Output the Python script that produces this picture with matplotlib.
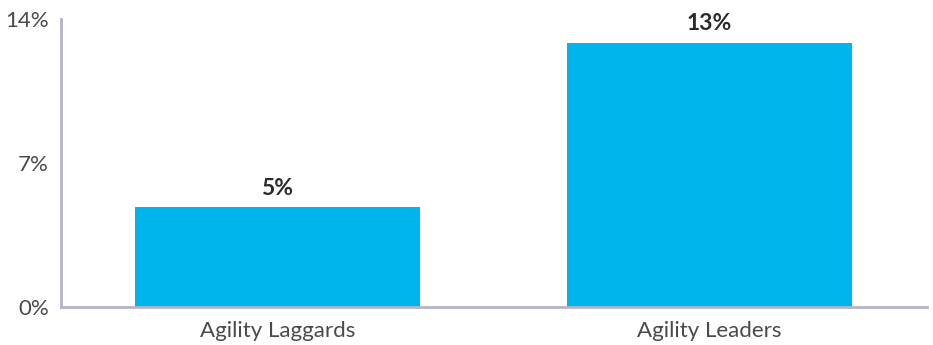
import matplotlib
matplotlib.use("Agg")
import matplotlib.pyplot as plt

categories = ["Agility Laggards", "Agility Leaders"]
values = [4.85, 12.87]
value_labels = ["5%", "13%"]
yticks = [0, 7, 14]
ytick_labels = ["0%", "7%", "14%"]

plt.rcParams['font.family'] = ['Lato', 'DejaVu Sans']

fig = plt.figure(figsize=(9.33, 3.45), dpi=100)
ax = fig.add_axes([0.0659, 0.1101, 0.9277, 0.8334])

x = range(len(categories))
bars = ax.bar(x, values, width=0.66, color="#00b5ec", zorder=2)
for b, lab in zip(bars, value_labels):
    ax.annotate(lab, (b.get_x() + b.get_width() / 2, b.get_height()),
                xytext=(0, 6), textcoords="offset points", ha="center", va="bottom",
                fontsize=16.5, fontweight="bold", color="#2b2b2b")

ax.set_xlim(-0.5, 1.503)
ax.set_ylim(0, 14)
ax.set_yticks(yticks)
ax.set_yticklabels(ytick_labels)
ax.set_xticks(list(x))
ax.set_xticklabels(categories)
ax.tick_params(axis="y", length=0, pad=9, labelsize=16, labelcolor="#4a4a4a")
ax.tick_params(axis="x", length=0, pad=10, labelsize=16, labelcolor="#4a4a4a")

for s in ["top", "right"]:
    ax.spines[s].set_visible(False)
for s in ["left", "bottom"]:
    ax.spines[s].set_color("#b5b3c6")
    ax.spines[s].set_linewidth(2)

fig.savefig("out.png", dpi=100)
